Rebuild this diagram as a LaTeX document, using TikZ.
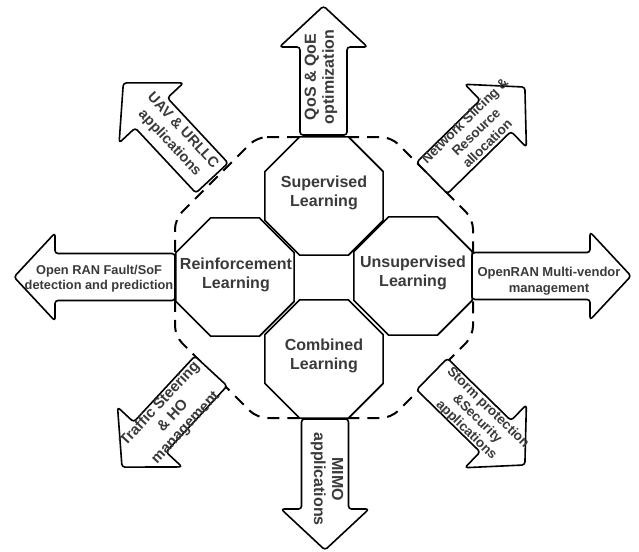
\documentclass[tikz,border=0pt]{standalone}
\usepackage{fontspec}
\setmainfont{Liberation Sans}
\usetikzlibrary{shapes.geometric}
\definecolor{txt}{HTML}{3A3A3A}

% block arrow: base point, direction, length, half shaft width
\newcommand\fatarrow[4]{%
  \begin{scope}[shift={#1}, rotate=#2]
    \draw[outline, fill=white, rounded corners=3pt]
      (0,-#4) -- ({#3-41},-#4) -- ({#3-41},-44) -- (#3,0)
      -- ({#3-41},44) -- ({#3-41},#4) -- (0,#4) -- cycle;
  \end{scope}}

\begin{document}
\begin{tikzpicture}[x=1pt, y=-1pt,
  outline/.style={line width=1.6pt, line join=round},
  octbox/.style={regular polygon, regular polygon sides=8, minimum size=128pt,
    inner sep=0pt, outer sep=0pt, draw, fill=white, outline},
  octlabel/.style={align=center, inner sep=0pt, text=txt,
    font=\fontsize{16}{19}\selectfont\bfseries},
  arrowlabel/.style 2 args={align=center, inner sep=0pt, text=txt,
    font=\fontsize{#1}{#2}\selectfont\bfseries},
  frame/.style={line width=2pt, dash pattern=on 12pt off 8pt, rounded corners=10pt}
]
\fill[white] (0,0) rectangle (639,551);
\useasboundingbox (0,0) rectangle (639,551);

% dashed outer frame
\draw[frame] (257,137) -- (391,137) -- (473,219) -- (473,336) -- (391,418)
  -- (257,418) -- (175,336) -- (175,219) -- cycle;

% learning paradigms
\node[octbox] (sup) at (324,196) {};
\node[octbox] (rei) at (235,277) {};
\node[octbox] (uns) at (413,276) {};
\node[octbox] (com) at (324,359) {};
\node[octlabel] (supt) at (324,193) {Supervised\\Learning};
\node[octlabel] (reit) at (236,275) {Reinforcement\\Learning};
\node[octlabel] (unst) at (413,273) {Unsupervised\\Learning};
\node[octlabel] (comt) at (324,356) {Combined\\Learning};

% application arrows
\fatarrow{(323.5,135)}{90}{129}{23.5}
\fatarrow{(325,419)}{-90}{131}{23.5}
\fatarrow{(175,277)}{180}{161}{23.5}
\fatarrow{(472,276)}{0}{159}{23.5}
\fatarrow{(212,178)}{133}{130}{22}
\fatarrow{(432,178)}{44.4}{130}{22}
\fatarrow{(211,371)}{-132.8}{131}{22}
\fatarrow{(432,374)}{-44.4}{130}{22}

% arrow captions
\node[arrowlabel={16}{18}, rotate=90] (qos) at (321,77) {QoS \& QoE\\optimization};
\node[arrowlabel={16}{18}, rotate=-90] (mimo) at (327,479) {MIMO\\applications};
\node[arrowlabel={12.8}{15}] (fault) at (99,279) {Open RAN Fault/SoF\\detection and prediction};
\node[arrowlabel={13}{16}] (vendor) at (549,281) {OpenRAN Multi-vendor\\management};
\node[arrowlabel={14.5}{18}, rotate=-47] (uav) at (176,137) {UAV \& URLLC\\applications};
\node[arrowlabel={13.5}{16}, rotate=44.4] (slice) at (476,132) {Network Slicing \&\\Resource\\allocation};
\node[arrowlabel={15}{17.5}, rotate=47.2] (steer) at (173,416) {Traffic Steering\\\& HO\\management};
\node[arrowlabel={13.5}{15.5}, rotate=-44.4] (storm) at (477,419) {Storm protection\\\&Security\\applications};
\end{tikzpicture}
\end{document}
